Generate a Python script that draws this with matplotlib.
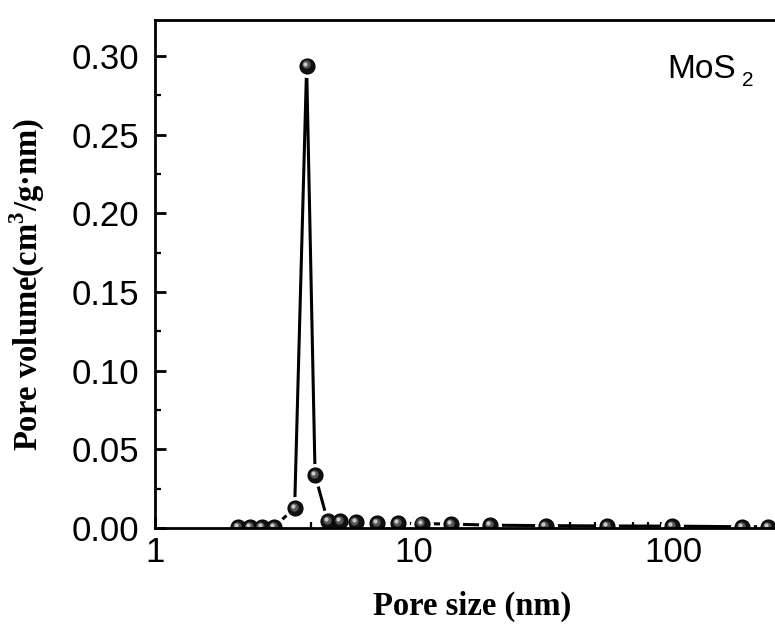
import matplotlib
matplotlib.use("Agg")
import matplotlib.pyplot as plt
from matplotlib.ticker import MultipleLocator, LogLocator, FixedLocator, NullFormatter
import matplotlib.transforms as mtransforms

pore_size = [2.09, 2.33, 2.58, 2.88, 3.46, 3.85, 4.15, 4.64, 5.17, 5.95, 7.19,
             8.69, 10.7, 13.9, 19.7, 32.2, 55.8, 99.5, 185, 232]
pore_volume = [0.0008, 0.0008, 0.0008, 0.0008, 0.0125, 0.294, 0.0337, 0.0045,
               0.0043, 0.0035, 0.0032, 0.003, 0.0028, 0.0025, 0.0018, 0.0015,
               0.0013, 0.0012, 0.0008, 0.0008]
y_ticks = [0.00, 0.05, 0.10, 0.15, 0.20, 0.25, 0.30]
y_ticklabels = ["0.00", "0.05", "0.10", "0.15", "0.20", "0.25", "0.30"]
x_ticks = [1, 10, 100]
x_ticklabels = ["1", "10", "100"]

W, H = 775, 628
fig = plt.figure(figsize=(W / 100, H / 100), dpi=100)
left_px, bottom_px, top_px = 155, 528, 20
decade_px = 259
xmin, xmax = 1, 1000
ax = fig.add_axes([left_px / W, (H - bottom_px) / H,
                   decade_px * 3 / W, (bottom_px - top_px) / H])
ax.set_xscale("log")
ax.set_xlim(xmin, xmax)
ax.set_ylim(0, 0.323)

# line with gaps around symbols (Origin style)
ax.plot(pore_size, pore_volume, color="black", lw=2.2, zorder=2)
ax.plot(pore_size, pore_volume, ls="none", marker="o", ms=15.5,
        mfc="white", mec="white", zorder=2.2)
ax.plot(pore_size, pore_volume, ls="none", marker="o", ms=10.8,
        mfc="#111111", mec="#000000", mew=0.8, zorder=3)
off1 = mtransforms.offset_copy(ax.transData, fig=fig, x=-0.8, y=0.8, units="points")
ax.plot(pore_size, pore_volume, ls="none", marker="o", ms=6,
        mfc="#555555", mec="none", transform=off1, zorder=3.1)
off2 = mtransforms.offset_copy(ax.transData, fig=fig, x=-1.5, y=1.5, units="points")
ax.plot(pore_size, pore_volume, ls="none", marker="o", ms=3,
        mfc="#c8c8c8", mec="none", transform=off2, zorder=3.2)

for s in ax.spines.values():
    s.set_linewidth(2.0)
    s.set_zorder(4)

ax.yaxis.set_major_locator(FixedLocator(y_ticks))
ax.set_yticklabels(y_ticklabels)
ax.yaxis.set_minor_locator(MultipleLocator(0.025))
ax.xaxis.set_major_locator(FixedLocator(x_ticks))
ax.set_xticklabels(x_ticklabels)
ax.xaxis.set_minor_locator(LogLocator(base=10, subs=range(2, 10)))
ax.xaxis.set_minor_formatter(NullFormatter())

ax.tick_params(axis="both", which="major", direction="in", length=8, width=2,
               labelsize=25, top=False, right=False)
ax.tick_params(axis="y", which="major", pad=11)
ax.tick_params(axis="x", which="major", pad=6)
ax.tick_params(axis="both", which="minor", direction="in", length=4.5, width=1.6,
               top=False, right=False)
for lab in ax.get_xticklabels() + ax.get_yticklabels():
    lab.set_fontfamily("Liberation Sans")

fig.text(472 / W, 1 - 606 / H, "Pore size (nm)", fontfamily="Liberation Serif",
         fontweight="bold", fontsize=23.5, ha="center", va="center")
fig.text(27 / W, 1 - 284 / H, "Pore volume(cm$^{\\mathregular{3}}$/g·nm)",
         fontfamily="Liberation Serif", fontweight="bold", fontsize=23.5,
         rotation=90, ha="center", va="center")

fig.text(667 / W, 1 - 69 / H, "MoS", fontfamily="Liberation Sans", fontsize=24,
         va="center", ha="left")
fig.text(742 / W, 1 - 80 / H, "2", fontfamily="Liberation Sans", fontsize=15,
         va="center", ha="left")

fig.savefig("out.png", dpi=100)
